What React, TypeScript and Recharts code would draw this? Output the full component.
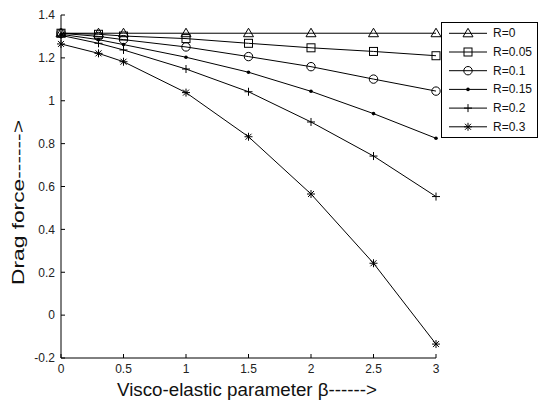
import React from "react";
import { LineChart, Line, XAxis, YAxis } from "recharts";

const betaValues = [0, 0.3, 0.5, 1, 1.5, 2, 2.5, 3];
const r0 = [1.315, 1.315, 1.315, 1.315, 1.315, 1.315, 1.315, 1.315];
const r005 = [1.315, 1.31, 1.302, 1.29, 1.268, 1.247, 1.23, 1.21];
const r01 = [1.315, 1.3, 1.285, 1.251, 1.206, 1.159, 1.101, 1.045];
const r015 = [1.31, 1.285, 1.262, 1.203, 1.133, 1.044, 0.94, 0.825];
const r02 = [1.305, 1.268, 1.237, 1.148, 1.042, 0.901, 0.742, 0.553];
const r03 = [1.265, 1.221, 1.182, 1.038, 0.832, 0.565, 0.242, -0.135];
const seriesNames = ["R=0", "R=0.05", "R=0.1", "R=0.15", "R=0.2", "R=0.3"];
const seriesKeys = ["r0", "r005", "r01", "r015", "r02", "r03"];
const markerKinds = ["triangle", "square", "circle", "dot", "plus", "star"];
const xTicks = [0, 0.5, 1, 1.5, 2, 2.5, 3];
const yTicks = [-0.2, 0, 0.2, 0.4, 0.6, 0.8, 1, 1.2, 1.4];
const xTitle = "Visco-elastic parameter \u03b2------>";
const yTitle = "Drag force------>";

const seriesValues = [r0, r005, r01, r015, r02, r03];
const data = betaValues.map((b, i) => {
  const row: any = { beta: b };
  seriesKeys.forEach((k, s) => {
    row[k] = seriesValues[s][i];
  });
  return row;
});

const FONT = "'Liberation Sans', Arial, sans-serif";

function Marker({ kind, cx, cy }: { kind: string; cx: number; cy: number }) {
  const st = { stroke: "#000", strokeWidth: 1, fill: "none" };
  switch (kind) {
    case "triangle":
      return <polygon points={`${cx},${cy - 5} ${cx - 5},${cy + 3.5} ${cx + 5},${cy + 3.5}`} {...st} />;
    case "square":
      return <rect x={cx - 4} y={cy - 4} width={8} height={8} {...st} />;
    case "circle":
      return <circle cx={cx} cy={cy} r={4.2} {...st} />;
    case "dot":
      return <circle cx={cx} cy={cy} r={1.8} fill="#000" />;
    case "plus":
      return (
        <g {...st}>
          <line x1={cx - 4} y1={cy} x2={cx + 4} y2={cy} />
          <line x1={cx} y1={cy - 4} x2={cx} y2={cy + 4} />
        </g>
      );
    case "star":
    default:
      return (
        <g {...st}>
          <line x1={cx - 4} y1={cy} x2={cx + 4} y2={cy} />
          <line x1={cx} y1={cy - 4} x2={cx} y2={cy + 4} />
          <line x1={cx - 3} y1={cy - 3} x2={cx + 3} y2={cy + 3} />
          <line x1={cx - 3} y1={cy + 3} x2={cx + 3} y2={cy - 3} />
        </g>
      );
  }
}

const makeDot = (kind: string) => (props: any) => {
  const { cx, cy, index } = props;
  if (cx == null || cy == null) return <g key={`d-${kind}-${index}`} />;
  return (
    <g key={`d-${kind}-${index}`}>
      <Marker kind={kind} cx={cx} cy={cy} />
    </g>
  );
};

const tickStyle = { fontSize: 12, fill: "#222", fontFamily: FONT };

export default function App() {
  return (
    <div style={{ position: "absolute", left: 0, top: 0, width: 540, height: 400, background: "#fff" }}>
      <LineChart
        width={540}
        height={400}
        data={data}
        margin={{ top: 15, right: 104, bottom: 0, left: 0 }}
      >
        <XAxis
          dataKey="beta"
          type="number"
          domain={[0, 3]}
          ticks={xTicks}
          tickSize={-4}
          tickMargin={10}
          height={42}
          axisLine={{ stroke: "#000" }}
          tickLine={{ stroke: "#000" }}
          tick={tickStyle}
          tickFormatter={(v: number) => String(v)}
          label={{
            content: () => (
              <text
                x={247}
                y={396}
                textAnchor="middle"
                fontSize={17.5}
                fill="#111"
                fontFamily={FONT}
                textLength={260}
                lengthAdjust="spacingAndGlyphs"
              >
                {xTitle}
              </text>
            ),
          }}
        />
        <XAxis
          xAxisId="top"
          orientation="top"
          dataKey="beta"
          type="number"
          domain={[0, 3]}
          ticks={xTicks}
          tickSize={-4}
          height={0}
          tick={false}
          axisLine={{ stroke: "#000" }}
          tickLine={{ stroke: "#000" }}
        />
        <YAxis
          type="number"
          domain={[-0.2, 1.4]}
          ticks={yTicks}
          tickSize={-4}
          tickMargin={10}
          width={61}
          axisLine={{ stroke: "#000" }}
          tickLine={{ stroke: "#000" }}
          tick={tickStyle}
          tickFormatter={(v: number) => String(v)}
          label={{
            content: () => (
              <text
                x={18}
                y={202.5}
                transform="rotate(-90 18 202.5)"
                textAnchor="middle"
                dominantBaseline="central"
                fontSize={17}
                fill="#111"
                fontFamily={FONT}
                textLength={165}
                lengthAdjust="spacingAndGlyphs"
              >
                {yTitle}
              </text>
            ),
          }}
        />
        <YAxis
          yAxisId="right"
          orientation="right"
          type="number"
          domain={[-0.2, 1.4]}
          ticks={yTicks}
          tickSize={-4}
          width={0}
          tick={false}
          axisLine={{ stroke: "#000" }}
          tickLine={{ stroke: "#000" }}
        />
        {seriesKeys.map((k, i) => (
          <Line
            key={k}
            dataKey={k}
            name={seriesNames[i]}
            stroke="#000"
            strokeWidth={1}
            type="linear"
            dot={makeDot(markerKinds[i])}
            activeDot={false}
            isAnimationActive={false}
          />
        ))}
      </LineChart>
      <div
        style={{
          position: "absolute",
          left: 441,
          top: 22,
          width: 97,
          height: 116,
          border: "1px solid #000",
          background: "#fff",
          boxSizing: "border-box",
        }}
      >
        <svg width={97} height={116} style={{ position: "absolute", left: -1, top: -1 }}>
          {seriesNames.map((n, i) => {
            const y = 11.3 + i * 18.7;
            return (
              <g key={n}>
                <line x1={8} x2={46} y1={y} y2={y} stroke="#000" strokeWidth={1} />
                <Marker kind={markerKinds[i]} cx={27} cy={y} />
                <text x={52} y={y} dominantBaseline="central" fontSize={12} fill="#111" fontFamily={FONT}>
                  {n}
                </text>
              </g>
            );
          })}
        </svg>
      </div>
    </div>
  );
}
